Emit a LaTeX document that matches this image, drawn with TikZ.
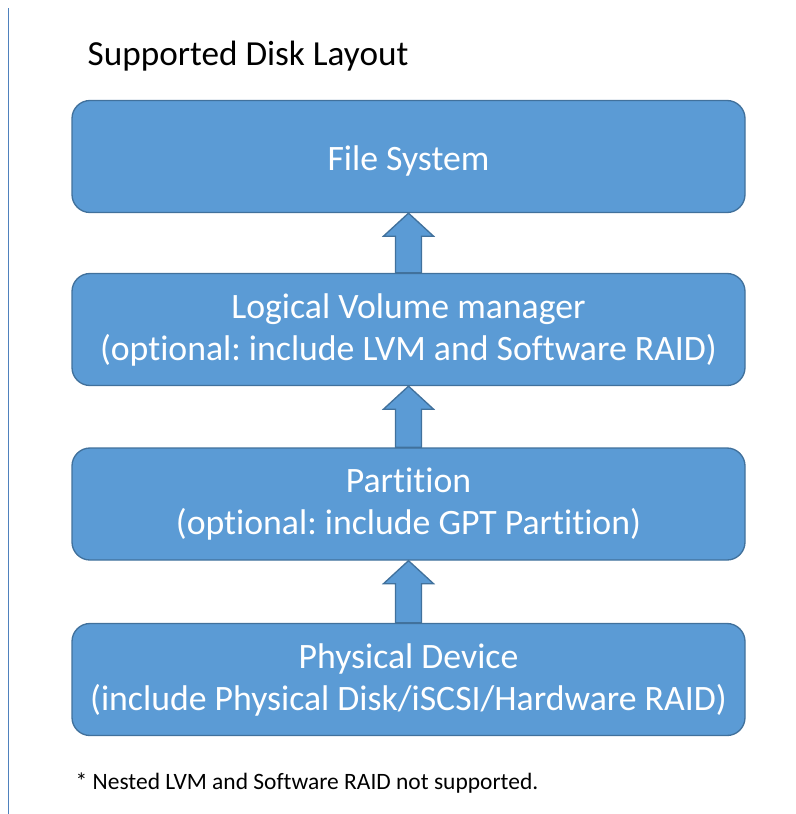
\documentclass[tikz,border=0pt]{standalone}
\usepackage{fontspec}
\setmainfont[Ligatures=NoCommon]{Carlito}
\frenchspacing
\usetikzlibrary{calc}

\definecolor{boxfill}{HTML}{5B9BD5}
\definecolor{boxline}{HTML}{41719C}
\definecolor{sideline}{HTML}{4F81BD}

\tikzset{
  layer/.style={draw=boxline,fill=boxfill,line width=1pt,rounded corners=13.5pt,
    minimum width=504.75pt,minimum height=84pt,inner sep=0pt,align=center,
    text=white,font=\fontsize{26.8}{31.5}\selectfont,
    execute at begin node={\rule{0pt}{26pt}}},
  uparrow/.style={draw=boxline,fill=boxfill,line width=1pt,line join=miter}
}

% block arrow pointing up from #1 to #2
\newcommand{\layerarrow}[2]{%
  \draw[uparrow] ($(#1.north)+(-13,0)$) -- ($(#2.south)+(-13,23)$)
    -- ($(#2.south)+(-25,23)$) -- (#2.south) -- ($(#2.south)+(25,23)$)
    -- ($(#2.south)+(13,23)$) -- ($(#1.north)+(13,0)$) -- cycle;}

\begin{document}
\begin{tikzpicture}[x=0.75pt,y=-0.75pt]
  \useasboundingbox (0,0) rectangle (796,814);
  \draw[sideline,line width=1pt] (8.5,8) -- (8.5,814);

  \node[anchor=base west,font=\fontsize{26.4}{30}\selectfont] (title) at (83,65)
    {Supported Disk Layout};

  \node[layer] (fs)  at (408.5,156.5) {File System};
  \node[layer] (lvm) at (408.5,329.5) {Logical Volume manager\\(optional: include LVM and Software RAID)};
  \node[layer] (part) at (408.5,504) {Partition\\(optional: include GPT Partition)};
  \node[layer] (phys) at (408.5,679.5) {Physical Device\\(include Physical Disk/iSCSI/Hardware RAID)};

  \layerarrow{lvm}{fs}
  \layerarrow{part}{lvm}
  \layerarrow{phys}{part}

  \node[anchor=base west,font=\fontsize{17.6}{21}\selectfont] (note) at (71,789)
    {* Nested LVM and Software RAID not supported.};
\end{tikzpicture}
\end{document}
